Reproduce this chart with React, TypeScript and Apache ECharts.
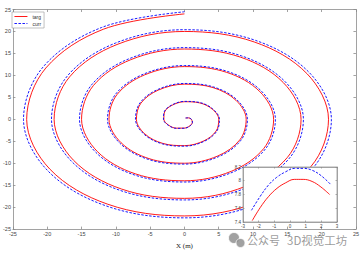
import React, { useEffect, useRef } from "react";
import * as echarts from "echarts";

// Main spiral: reference trajectory (targ) and tracked trajectory (curr)
const targX = [0.17,0.58,1,1.15,0.83,0,-1.17,-2.31,-3,-2.89,-1.83,0,2.17,4.04,5,4.62,2.83,0,-3.17,-5.77,-7,-6.35,-3.83,0,4.17,7.51,9,8.08,4.83,0,-5.17,-9.24,-11,-9.81,-5.83,0,6.17,10.97,13,11.55,6.83,0,-7.17,-12.7,-15,-13.28,-7.83,0,8.17,14.43,17,15.01,8.83,0,-9.17,-16.17,-19,-16.74,-9.83,0,10.17,17.9,21,18.48,10.83,0,-11.17,-19.63,-23,-20.21,-11.83,0];
const targY = [0.29,0.33,0,-0.67,-1.44,-2,-2.02,-1.33,0,1.67,3.18,4,3.75,2.33,0,-2.67,-4.91,-6,-5.48,-3.33,0,3.67,6.64,8,7.22,4.33,0,-4.67,-8.37,-10,-8.95,-5.33,0,5.67,10.1,12,10.68,6.33,0,-6.67,-11.84,-14,-12.41,-7.33,0,7.67,13.57,16,14.15,8.33,0,-8.67,-15.3,-18,-15.88,-9.33,0,9.67,17.03,20,17.61,10.33,0,-10.67,-18.76,-22,-19.34,-11.33,0,11.67,20.5,24];
const currX = [0.17,0.59,1.02,1.17,0.85,0,-1.19,-2.36,-3.06,-2.95,-1.87,0,2.21,4.12,5.1,4.71,2.89,0,-3.23,-5.89,-7.14,-6.48,-3.91,0,4.25,7.66,9.18,8.24,4.93,0,-5.27,-9.42,-11.22,-10.01,-5.95,0,6.29,11.19,13.26,11.78,6.97,0,-7.31,-12.95,-15.3,-13.55,-7.99,0,8.33,14.72,17.34,15.31,9.01,0,-9.35,-16.49,-19.38,-17.07,-10.03,0,10.37,18.26,21.42,18.85,11.05,0,-11.39,-20.02,-23.46,-20.61,-12.07,0];
const currY = [0.3,0.34,0,-0.68,-1.47,-2.04,-2.06,-1.36,0,1.7,3.24,4.08,3.83,2.38,0,-2.72,-5.01,-6.12,-5.59,-3.4,0,3.74,6.77,8.16,7.36,4.42,0,-4.76,-8.54,-10.2,-9.13,-5.44,0,5.78,10.3,12.24,10.89,6.46,0,-6.8,-12.08,-14.28,-12.66,-7.48,0,7.82,13.84,16.32,14.43,8.5,0,-8.84,-15.61,-18.36,-16.2,-9.52,0,9.86,17.37,20.4,17.96,10.54,0,-10.88,-19.14,-22.44,-19.73,-11.56,0,11.9,20.91,24.48];

// Inset (zoom on the arm near y = 8)
const insetTargX = [-2.41,-1.9,-1.37,-0.83,-0.28,0.28,0.84,1.41,1.97,2.53];
const insetTargY = [7.42,7.61,7.77,7.89,7.97,8.02,8.02,7.99,7.91,7.8];
const insetCurrX = [-2.46,-1.94,-1.4,-0.85,-0.28,0.29,0.86,1.44,2.01,2.58];
const insetCurrY = [7.57,7.76,7.93,8.05,8.13,8.18,8.18,8.15,8.07,7.95];

const legendNames = ["targ", "curr"];
const xAxisName = "X (m)";
const watermarkA = "公众号";
const watermarkB = "3D视觉工坊";

const zip = (xs: number[], ys: number[]) => xs.map((x, i) => [x, ys[i]]);

const RED = "#ff0000";
const BLUE = "#0000ff";
const AXIS = "#8a8a8a";
const LABEL = "#444";
const SANS = "Liberation Sans, Arial, sans-serif";

export default function App() {
  const ref = useRef<HTMLDivElement>(null);
  useEffect(() => {
    if (!ref.current) return;
    const chart = echarts.init(ref.current, undefined, { renderer: "svg" });
    const mainAxisCommon = {
      type: "value" as const,
      min: -25,
      max: 25,
      interval: 5,
      splitLine: { show: false },
      axisLine: { show: true, onZero: false, lineStyle: { color: AXIS, width: 0.8 } },
      axisTick: { show: true, inside: true, length: 2.5, lineStyle: { color: AXIS, width: 0.8 } },
    };
    const insetCommon = {
      splitLine: { show: false },
      axisLine: { show: true, onZero: false, lineStyle: { color: AXIS, width: 0.7 } },
      axisTick: { show: true, inside: true, length: 1.5, lineStyle: { color: AXIS, width: 0.7 } },
      z: 8,
    };
    chart.setOption({
      animation: false,
      backgroundColor: "#fff",
      grid: [
        { left: 10, top: 9.5, width: 346, height: 223.5, show: false },
        {
          left: 243,
          top: 167,
          width: 94,
          height: 55,
          show: true,
          backgroundColor: "#fff",
          borderColor: AXIS,
          borderWidth: 0.7,
          z: 5,
        },
      ],
      xAxis: [
        {
          ...mainAxisCommon,
          gridIndex: 0,
          position: "bottom",
          name: xAxisName,
          nameLocation: "middle",
          nameGap: 8,
          nameTextStyle: { fontFamily: "Liberation Serif, Times New Roman, serif", fontSize: 7, color: "#222" },
          axisLabel: { fontSize: 5.5, color: LABEL, margin: 2, fontFamily: SANS },
        },
        { ...mainAxisCommon, gridIndex: 0, position: "top", axisLabel: { show: false } },
        {
          ...insetCommon,
          type: "value",
          gridIndex: 1,
          position: "bottom",
          min: -3,
          max: 3,
          interval: 1,
          axisLabel: { fontSize: 4.5, color: LABEL, margin: 2, fontFamily: SANS },
        },
        {
          ...insetCommon,
          type: "value",
          gridIndex: 1,
          position: "top",
          min: -3,
          max: 3,
          interval: 1,
          axisLabel: { show: false },
        },
      ],
      yAxis: [
        {
          ...mainAxisCommon,
          gridIndex: 0,
          position: "left",
          axisLabel: { fontSize: 5.5, color: LABEL, margin: 2, fontFamily: SANS },
        },
        { ...mainAxisCommon, gridIndex: 0, position: "right", axisLabel: { show: false } },
        {
          ...insetCommon,
          type: "value",
          gridIndex: 1,
          position: "left",
          min: 7.4,
          max: 8.2,
          interval: 0.2,
          axisLabel: { fontSize: 4.5, color: LABEL, margin: 2, fontFamily: SANS },
        },
        {
          ...insetCommon,
          type: "value",
          gridIndex: 1,
          position: "right",
          min: 7.4,
          max: 8.2,
          interval: 0.2,
          axisLabel: { show: false },
        },
      ],
      legend: {
        data: legendNames,
        orient: "vertical",
        left: 12,
        top: 12,
        itemWidth: 13,
        itemHeight: 5,
        itemGap: 2,
        padding: [2, 3, 2, 2],
        borderColor: "#999",
        borderWidth: 0.6,
        backgroundColor: "#fff",
        itemStyle: { opacity: 0 },
        lineStyle: { width: 0.9 },
        textStyle: { fontSize: 5, color: "#333", fontFamily: SANS },
        z: 20,
      },
      series: [
        {
          name: legendNames[0],
          type: "line",
          xAxisIndex: 0,
          yAxisIndex: 0,
          data: zip(targX, targY),
          smooth: 0.35,
          symbol: "none",
          lineStyle: { color: RED, width: 0.9 },
          itemStyle: { color: RED },
          z: 2,
        },
        {
          name: legendNames[1],
          type: "line",
          xAxisIndex: 0,
          yAxisIndex: 0,
          data: zip(currX, currY),
          smooth: 0.35,
          symbol: "none",
          lineStyle: { color: BLUE, width: 0.9, type: [2.5, 1.5] },
          itemStyle: { color: BLUE },
          z: 3,
        },
        {
          name: legendNames[0],
          type: "line",
          xAxisIndex: 2,
          yAxisIndex: 2,
          data: zip(insetTargX, insetTargY),
          smooth: 0.4,
          symbol: "none",
          lineStyle: { color: RED, width: 0.9 },
          itemStyle: { color: RED },
          z: 10,
        },
        {
          name: legendNames[1],
          type: "line",
          xAxisIndex: 2,
          yAxisIndex: 2,
          data: zip(insetCurrX, insetCurrY),
          smooth: 0.4,
          symbol: "none",
          lineStyle: { color: BLUE, width: 0.9, type: [2.5, 1.5] },
          itemStyle: { color: BLUE },
          z: 11,
        },
      ],
      graphic: [
        {
          type: "circle",
          z: 30,
          shape: { cx: 234, cy: 238, r: 5.5 },
          style: { fill: "rgba(130,130,130,0.75)", stroke: "#fff", lineWidth: 0.8 },
        },
        {
          type: "circle",
          z: 31,
          shape: { cx: 240.5, cy: 243, r: 4.5 },
          style: { fill: "rgba(130,130,130,0.75)", stroke: "#fff", lineWidth: 0.8 },
        },
        {
          type: "text",
          z: 30,
          left: 247,
          top: 234,
          style: {
            text: watermarkA,
            fontSize: 11,
            fontFamily: "Noto Sans CJK SC",
            fill: "rgba(120,120,120,0.75)",
          },
        },
        {
          type: "text",
          z: 30,
          left: 287,
          top: 234,
          style: {
            text: watermarkB,
            fontSize: 11.5,
            fontFamily: "Noto Sans CJK SC",
            fill: "rgba(120,120,120,0.75)",
          },
        },
      ],
    });
    return () => chart.dispose();
  }, []);
  return <div ref={ref} style={{ width: 362, height: 254, position: "absolute", left: 0, top: 0 }} />;
}
